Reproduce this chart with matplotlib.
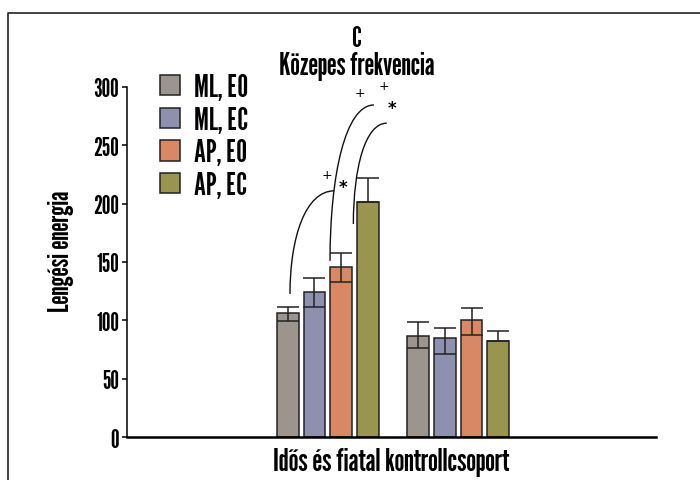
import numpy as np
import matplotlib
matplotlib.use("Agg")
import matplotlib.pyplot as plt
from matplotlib import font_manager
from matplotlib.path import Path
from matplotlib.patches import PathPatch, Patch
from matplotlib.lines import Line2D

# ---- data ----
groups = ["Idős", "Fiatal"]
series = ["ML, EO", "ML, EC", "AP, EO", "AP, EC"]
colors = ["#9c958e", "#8e90b0", "#d98865", "#99944e"]

ml_eo = [106.0, 86.3]
ml_ec = [124.6, 84.6]
ap_eo = [146.0, 100.3]
ap_ec = [201.5, 82.6]

ml_eo_hi = [5.7, 12.3]
ml_ec_hi = [11.7, 8.6]
ap_eo_hi = [11.7, 10.3]
ap_ec_hi = [20.6, 8.5]

ml_eo_lo = [6.3, 9.7]
ml_ec_lo = [12.9, 13.2]
ap_eo_lo = [12.8, 13.2]
ap_ec_lo = [0.0, 0.0]

# significance brackets (start x, start y, end x, end y) in data units
sig_x0 = [-0.290, 0.017, 0.196]
sig_y0 = [122.6, 151.0, 182.6]
sig_x1 = [0.050, 0.354, 0.452]
sig_y1 = [211.0, 284.6, 269.0]
# markers
plus_x = [-0.004, 0.247, 0.433]
plus_y = [225.4, 295.4, 301.0]
star_x = [0.114, 0.495]
star_y = [216.9, 285.0]

means = [ml_eo, ml_ec, ap_eo, ap_ec]
err_hi = [ml_eo_hi, ml_ec_hi, ap_eo_hi, ap_ec_hi]
err_lo = [ml_eo_lo, ml_ec_lo, ap_eo_lo, ap_ec_lo]

# ---- font ----
names = {f.name for f in font_manager.fontManager.ttflist}
fam = "League Gothic" if "League Gothic" in names else "DejaVu Sans"
plt.rcParams["font.family"] = [fam, "DejaVu Sans"]
plt.rcParams["font.weight"] = "bold"

fig = plt.figure(figsize=(7, 4.81), dpi=100)
ax = fig.add_axes([127 / 700, 1 - 438 / 481, 528.5 / 700, 350 / 481])

step = 0.2047
width = 0.165
gx = np.arange(len(groups))
for i, name in enumerate(series):
    x = gx + (i - 1.5) * step
    ax.bar(x, means[i], width, color=colors[i], edgecolor="#222222",
           linewidth=1.1, label=name, zorder=2)
    ax.errorbar(x, means[i], yerr=[err_lo[i], err_hi[i]], fmt="none",
                ecolor="#222222", elinewidth=1.1, capsize=7.6,
                capthick=1.1, zorder=3)

# brackets
for x0, y0, x1, y1 in zip(sig_x0, sig_y0, sig_x1, sig_y1):
    verts = [(x0, y0), (x0, y0 + 0.55 * (y1 - y0)),
             (x0 + 0.35 * (x1 - x0), y1), (x1, y1)]
    path = Path(verts, [Path.MOVETO, Path.CURVE4, Path.CURVE4, Path.CURVE4])
    ax.add_patch(PathPatch(path, facecolor="none", edgecolor="#111111",
                           linewidth=1.0, clip_on=False, zorder=4))
for x, y in zip(plus_x, plus_y):
    ax.text(x, y, "+", ha="center", va="center", fontsize=9,
            fontweight="normal", family="DejaVu Sans", clip_on=False)
for x, y in zip(star_x, star_y):
    ax.text(x, y - 3, "*", ha="center", va="center", fontsize=12,
            fontweight="bold", family="DejaVu Sans", clip_on=False)

ax.set_xlim(-1.54, 2.513)
ax.set_ylim(0, 300)
ax.set_yticks(np.arange(0, 301, 50))
ax.set_xticks([])
ax.spines["top"].set_visible(False)
ax.spines["right"].set_visible(False)
ax.spines["bottom"].set_linewidth(1.8)
ax.spines["left"].set_linewidth(1.1)
ax.tick_params(axis="y", length=3.6, width=1.1, pad=2, labelsize=17.5)

ax.set_ylabel("Lengési energia", fontsize=21, va="center")
ax.yaxis.set_label_coords(-0.125, 0.534)
ax.set_xlabel("Idős és fiatal kontrollcsoport", fontsize=22.5, va="center")
ax.xaxis.set_label_coords(0.5, -0.0714)

handles = [Patch(facecolor=c, edgecolor="#222222", linewidth=1.1) for c in colors]
ax.legend(handles, series, loc="upper left", bbox_to_anchor=(0.063, 1.04),
          frameon=False, fontsize=22, handlelength=0.65, handleheight=0.65,
          handletextpad=0.45, labelspacing=0.12, borderpad=0, borderaxespad=0)

fig.text(357 / 700, 1 - 47.3 / 481, "C", ha="center", va="baseline", fontsize=20)
fig.text(357 / 700, 1 - 75 / 481, "Közepes frekvencia", ha="center",
         va="baseline", fontsize=22)

# frame around the figure (only left and top edges visible)
fig.add_artist(Line2D([8 / 700, 8 / 700, 1.05], [-0.05, 1 - 13.5 / 481, 1 - 13.5 / 481],
                      transform=fig.transFigure, color="#222222", linewidth=1.2))

fig.savefig("out.png", dpi=100)
